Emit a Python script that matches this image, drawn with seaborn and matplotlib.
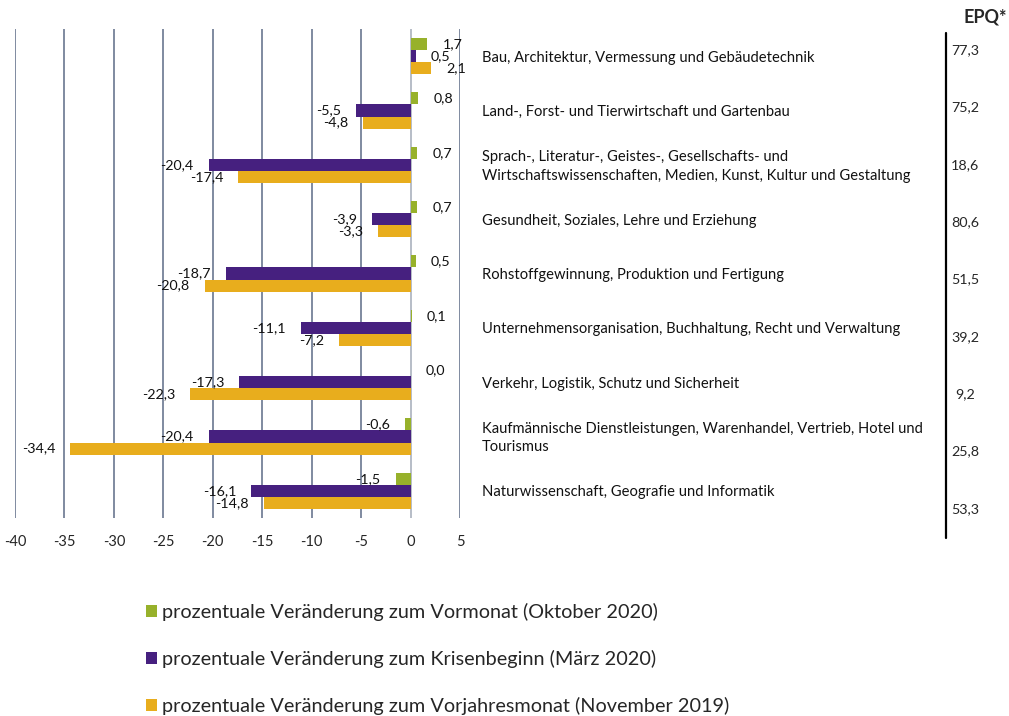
import numpy as np
import pandas as pd
import seaborn as sns
import matplotlib.pyplot as plt
from matplotlib.patches import Patch

# data
categories = [
    "Bau, Architektur, Vermessung und Gebäudetechnik",
    "Land-, Forst- und Tierwirtschaft und Gartenbau",
    "Sprach-, Literatur-, Geistes-, Gesellschafts- und\nWirtschaftswissenschaften, Medien, Kunst, Kultur und Gestaltung",
    "Gesundheit, Soziales, Lehre und Erziehung",
    "Rohstoffgewinnung, Produktion und Fertigung",
    "Unternehmensorganisation, Buchhaltung, Recht und Verwaltung",
    "Verkehr, Logistik, Schutz und Sicherheit",
    "Kaufmännische Dienstleistungen, Warenhandel, Vertrieb, Hotel und\nTourismus",
    "Naturwissenschaft, Geografie und Informatik",
]
vormonat = [1.7, 0.8, 0.7, 0.7, 0.5, 0.1, 0.0, -0.6, -1.5]
krisenbeginn = [0.5, -5.5, -20.4, -3.9, -18.7, -11.1, -17.3, -20.4, -16.1]
vorjahr = [2.1, -4.8, -17.4, -3.3, -20.8, -7.2, -22.3, -34.4, -14.8]
epq = [77.3, 75.2, 18.6, 80.6, 51.5, 39.2, 9.2, 25.8, 53.3]

series_names = [
    "prozentuale Veränderung zum Vormonat (Oktober 2020)",
    "prozentuale Veränderung zum Krisenbeginn (März 2020)",
    "prozentuale Veränderung zum Vorjahresmonat (November 2019)",
]
colors = ["#97B12B", "#46207F", "#E8AD1D"]
xticks = [-40, -35, -30, -25, -20, -15, -10, -5, 0, 5]

# long format for seaborn
df = pd.DataFrame({
    "cat": categories * 3,
    "value": vormonat + krisenbeginn + vorjahr,
    "series": [series_names[0]] * 9 + [series_names[1]] * 9 + [series_names[2]] * 9,
})

sns.set_style("white")
plt.rcParams["font.family"] = ["Lato", "DejaVu Sans"]

W, H = 1009, 716
fig = plt.figure(figsize=(W / 100, H / 100), dpi=100)
ax = fig.add_axes([15 / W, 1 - 518 / H, 445 / W, (518 - 29) / H])

sns.barplot(data=df, y="cat", x="value", hue="series", order=categories,
            hue_order=series_names, palette=colors, orient="h",
            width=0.67, dodge=True, ax=ax, legend=False,
            saturation=1, edgecolor="none")

ax.set_xlim(-40, 5)
ax.set_ylim(len(categories) - 0.5, -0.5)
ax.set_xticks(xticks)
ax.set_xticklabels([str(t) for t in xticks], fontsize=10.5)
ax.tick_params(axis="x", length=0, pad=12)
ax.set_yticks([])
ax.set_xlabel("")
ax.set_ylabel("")
for s in ax.spines.values():
    s.set_visible(False)

# vertical gridlines
for t in xticks:
    ax.axvline(t, color="#A3ABB8" if t == 0 else "#5C6B86", lw=1.1, zorder=0)

# data labels
for cont in ax.containers:
    for bar in cont:
        v = bar.get_width()
        y = bar.get_y() + bar.get_height() / 2
        lab = f"{v:.1f}".replace(".", ",")
        if v >= 0:
            ax.annotate(lab, (max(v, 0), y), xytext=(15, 0), textcoords="offset pixels",
                        ha="left", va="center", fontsize=10.3, color="#111111")
        else:
            ax.annotate(lab, (v, y), xytext=(-15, 0), textcoords="offset pixels",
                        ha="right", va="center", fontsize=10.3, color="#111111")

# category labels to the right of the plot
for i, c in enumerate(categories):
    ax.text((482 - 15) / 445, i + 0.03, c, transform=ax.get_yaxis_transform(),
            ha="left", va="center", fontsize=10.6, linespacing=1.4, color="#111111")

# EPQ column
fig.text(985 / W, 1 - 17 / H, "EPQ*", ha="center", va="center",
         fontsize=13, fontweight="bold")
fig.add_artist(plt.Line2D([946 / W, 946 / W], [1 - 33 / H, 1 - 538 / H],
                          color="black", lw=1.6))
epq_y = np.linspace(50, 509, len(epq))
for yy, val in zip(epq_y, epq):
    fig.text(965 / W, 1 - yy / H, f"{val:.1f}".replace(".", ","),
             ha="center", va="center", fontsize=10.3)

# legend below
handles = [Patch(facecolor=c, edgecolor="none") for c in colors]
fig.legend(handles, series_names, loc="upper left",
           bbox_to_anchor=(146 / W, 1 - 603 / H), frameon=False,
           fontsize=14.3, handlelength=0.55, handleheight=0.55,
           handletextpad=0.25, labelspacing=1.45, borderaxespad=0, borderpad=0)

fig.savefig("out.png", dpi=100)
